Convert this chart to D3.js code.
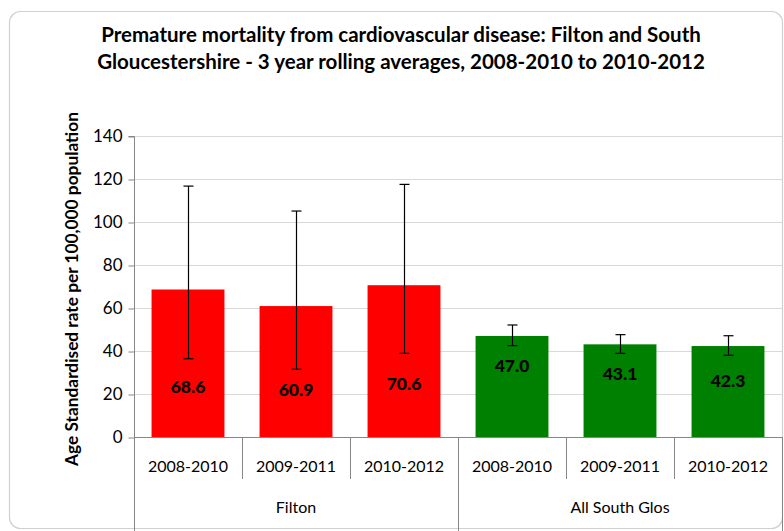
<!DOCTYPE html>
<html><head><meta charset="utf-8">
<script src="https://cdn.jsdelivr.net/npm/d3@7"></script>
<style>
html,body{margin:0;padding:0;background:#fff;}
svg{display:block;font-family:"Lato","Open Sans",sans-serif;}
</style></head>
<body><svg id="c" width="784" height="531"></svg>
<script>
const titleLines = ["Premature mortality from cardiovascular disease: Filton and South",
  "Gloucestershire - 3 year rolling averages, 2008-2010 to 2010-2012"];
const yAxisTitle = "Age Standardised rate per 100,000 population";
const groups = ["Filton", "All South Glos"];
const periods = ["2008-2010", "2009-2011", "2010-2012"];
const groupOf = ["Filton","Filton","Filton","All South Glos","All South Glos","All South Glos"];
const periodOf = ["2008-2010","2009-2011","2010-2012","2008-2010","2009-2011","2010-2012"];
const values = [68.6, 60.9, 70.6, 47.0, 43.1, 42.3];
const upper = [116.7, 105.1, 117.5, 52.1, 47.6, 47.1];
const lower = [36.4, 31.5, 38.9, 42.5, 38.9, 38.0];
const labelAt = [23.5, 21.8, 24.6, 33.0, 29.4, 25.9];
const colors = ["#ff0000","#ff0000","#ff0000","#008000","#008000","#008000"];
const yTicks = [0,20,40,60,80,100,120,140];

const svg = d3.select("#c");
const W = 784, H = 531;
const m = {left:134, right:782, top:136, bottom:437};

svg.append("rect").attr("x",9.5).attr("y",11.5).attr("width",773).attr("height",517)
  .attr("rx",11).attr("fill","#fff").attr("stroke","#d0d0d0").attr("stroke-width",1.2);

const keys = values.map((v,i)=>i);
const x = d3.scaleBand().domain(keys).range([m.left,m.right]).paddingInner(0.325).paddingOuter(0.1625);
const xc = d3.scaleBand().domain(keys).range([m.left,m.right]);
const y = d3.scaleLinear().domain([0,140]).range([m.bottom,m.top]);

// gridlines
svg.append("g").selectAll("line").data(yTicks.filter(t=>t>0)).join("line")
  .attr("x1",m.left).attr("x2",m.right)
  .attr("y1",d=>Math.round(y(d))+0.5).attr("y2",d=>Math.round(y(d))+0.5)
  .attr("stroke","#d9d9d9").attr("stroke-width",1);

// y axis
const yAxis = d3.axisLeft(y).tickValues(yTicks).tickSize(6).tickPadding(6);
const ga = svg.append("g").attr("transform",`translate(${m.left+0.5},0.5)`).call(yAxis);
ga.select(".domain").attr("stroke","#868686").attr("d",`M-6,${m.top}H0V${m.bottom}`);
ga.selectAll(".tick line").attr("stroke","#868686");
ga.selectAll(".tick text").attr("font-size",17).attr("fill","#000").attr("font-family","Lato, sans-serif");

// bars
svg.append("g").selectAll("rect").data(keys).join("rect")
  .attr("x",i=>x(i)).attr("width",x.bandwidth())
  .attr("y",i=>y(values[i])).attr("height",i=>y(0)-y(values[i]))
  .attr("fill",i=>colors[i]);

// error bars
const eb = svg.append("g").attr("stroke","#000").attr("stroke-width",1.2);
keys.forEach(i=>{
  const cx = Math.round(x(i)+x.bandwidth()/2)+0.5;
  eb.append("line").attr("x1",cx).attr("x2",cx).attr("y1",y(upper[i])).attr("y2",y(lower[i]));
  eb.append("line").attr("x1",cx-5).attr("x2",cx+5).attr("y1",y(upper[i])).attr("y2",y(upper[i]));
  eb.append("line").attr("x1",cx-5).attr("x2",cx+5).attr("y1",y(lower[i])).attr("y2",y(lower[i]));
});

// value labels
svg.append("g").selectAll("text").data(keys).join("text")
  .attr("x",i=>x(i)+x.bandwidth()/2).attr("y",i=>y(labelAt[i]))
  .attr("dy","0.35em").attr("text-anchor","middle")
  .attr("font-size",17.5).attr("font-weight","900").attr("fill","#000")
  .text(i=>values[i].toFixed(1));

// x axis
const xa = svg.append("g").attr("stroke","#868686").attr("stroke-width",1);
xa.append("line").attr("x1",m.left).attr("x2",m.right).attr("y1",m.bottom+0.5).attr("y2",m.bottom+0.5);
for(let k=0;k<=keys.length;k++){
  const xx = (k<keys.length? xc(k) : m.right);
  const isGroupEdge = (k===0 || k===keys.length || groupOf[k]!==groupOf[k-1]);
  xa.append("line").attr("x1",Math.round(xx)+0.5).attr("x2",Math.round(xx)+0.5)
    .attr("y1",m.bottom).attr("y2",isGroupEdge?531:479);
}
svg.append("g").selectAll("text").data(keys).join("text")
  .attr("x",i=>xc(i)+xc.bandwidth()/2).attr("y",466).attr("dy","0.35em")
  .attr("text-anchor","middle").attr("font-size",16).attr("fill","#000")
  .text(i=>periodOf[i]);
groups.forEach(g=>{
  const idx = keys.filter(i=>groupOf[i]===g);
  const x0 = xc(idx[0]), x1 = xc(idx[idx.length-1])+xc.bandwidth();
  svg.append("text").attr("x",(x0+x1)/2).attr("y",507).attr("dy","0.35em")
    .attr("text-anchor","middle").attr("font-size",16).attr("fill","#000").text(g);
});

// y title
svg.append("text").attr("transform","translate(72,289) rotate(-90)")
  .attr("text-anchor","middle").attr("dy","0.35em")
  .attr("font-size",17.3).attr("font-weight","bold").attr("fill","#000").text(yAxisTitle);

// title
titleLines.forEach((t,j)=>{
  svg.append("text").attr("x",401).attr("y",35+j*27).attr("dy","0.35em")
    .attr("text-anchor","middle").attr("font-size",20.5).attr("font-weight","bold")
    .attr("fill","#000").text(t);
});
</script></body></html>
